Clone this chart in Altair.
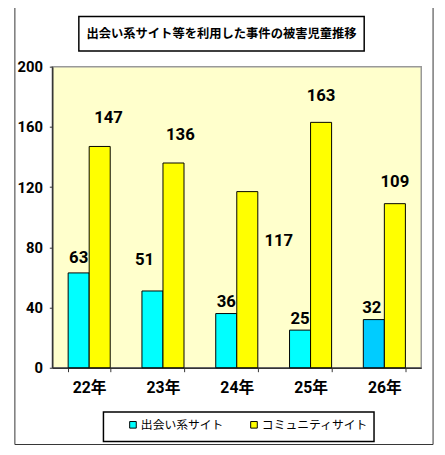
import altair as alt
import pandas as pd

years = ["22年", "23年", "24年", "25年", "26年"]
series = ["出会い系サイト", "コミュニティサイト"]
deai = [63, 51, 36, 25, 32]
community = [147, 136, 117, 163, 109]
y_ticks = [0, 40, 80, 120, 160, 200]
title_text = "出会い系サイト等を利用した事件の被害児童推移"

rows = []
for i, y in enumerate(years):
    rows.append({"year": y, "series": series[0], "value": deai[i]})
    rows.append({"year": y, "series": series[1], "value": community[i]})
df = pd.DataFrame(rows)

# label nudges (style, px): (series index, year) -> (dx, dy)
nudge = {
    (0, "22年"): (0, -6), (0, "23年"): (-8, -22), (0, "24年"): (0, -3),
    (0, "25年"): (0, -2), (0, "26年"): (-2, -3),
    (1, "22年"): (9, -20), (1, "23年"): (7, -19), (1, "24年"): (32, 59),
    (1, "25年"): (0, -18), (1, "26年"): (0, -13),
}

W, H = 375, 306
NUM_FONT = "Roboto, Noto Sans CJK JP"
JP_FONT = "Noto Sans CJK JP"

xs = alt.Scale(domain=years, paddingInner=0.43, paddingOuter=0.215)
ys = alt.Scale(domain=[0, 200], nice=False)
xo = alt.Scale(domain=series, paddingInner=0)

base = alt.Chart(df)

bars = base.mark_bar(stroke="black", strokeWidth=1).encode(
    x=alt.X("year:N", scale=xs, sort=years,
            axis=alt.Axis(title=None, labelAngle=0, ticks=True, tickBand="extent",
                          tickSize=4, tickColor="#333", labelPadding=8,
                          labelFont=NUM_FONT, labelFontSize=16, labelFontWeight="bold",
                          labelColor="black", domainColor="#333", domainWidth=1.5)),
    xOffset=alt.XOffset("series:N", scale=xo, sort=series),
    y=alt.Y("value:Q", scale=ys,
            axis=alt.Axis(title=None, values=y_ticks, grid=False, tickSize=3, labelPadding=7,
                          labelFont=NUM_FONT, labelFontSize=15, labelFontWeight="bold",
                          labelColor="black", domainColor="#333", domainWidth=1.5,
                          tickColor="#333")),
    color=alt.condition(
        (alt.datum.year == "26年") & (alt.datum.series == series[0]),
        alt.value("#00CCFF"),
        alt.Color("series:N", sort=series,
                  scale=alt.Scale(domain=series, range=["#00FFFF", "#FFFF00"]),
                  legend=alt.Legend(title=None, orient="none", legendX=76, legendY=358,
                                    direction="horizontal", symbolType="square",
                                    symbolSize=45, symbolStrokeColor="black",
                                    symbolStrokeWidth=1, columnPadding=24, labelOffset=2,
                                    labelFont=JP_FONT, labelFontSize=12,
                                    labelColor="black", padding=0)),
    ),
)

labels = []
for (si, yr), (dx, dy) in nudge.items():
    t = base.transform_filter(
        (alt.datum.year == yr) & (alt.datum.series == series[si])
    ).mark_text(font=NUM_FONT, fontSize=17, fontWeight="bold", baseline="bottom",
                color="black", dx=dx, dy=dy).encode(
        x=alt.X("year:N", scale=xs, sort=years),
        xOffset=alt.XOffset("series:N", scale=xo, sort=series),
        y=alt.Y("value:Q", scale=ys),
        text=alt.Text("value:Q"),
    )
    labels.append(t)

one = alt.Data(values=[{}])
outer = alt.Chart(one).mark_rect(filled=False, stroke="#333", strokeWidth=1).encode(
    x=alt.value(-38), x2=alt.value(387), y=alt.value(-61), y2=alt.value(384))
title_box = alt.Chart(one).mark_rect(filled=False, stroke="black", strokeWidth=1.5).encode(
    x=alt.value(27), x2=alt.value(317), y=alt.value(-51), y2=alt.value(-16))
title = alt.Chart(one).mark_text(text=title_text, font=JP_FONT, fontSize=12.5,
                                 fontWeight="bold", color="black").encode(
    x=alt.value(172), y=alt.value(-33))
legend_box = alt.Chart(one).mark_rect(filled=False, stroke="black", strokeWidth=1.5).encode(
    x=alt.value(52), x2=alt.value(327), y=alt.value(351), y2=alt.value(381))

chart = alt.layer(outer, title_box, title, legend_box, bars, *labels).properties(
    width=W, height=H,
    autosize=alt.AutoSizeParams(type="none"),
    padding={"left": 45, "top": 56, "right": 16, "bottom": 82},
    background="white",
).configure_view(fill="#FFFFCC", stroke="#999", strokeWidth=1.5)

chart.save("out.html", embed_options={"renderer": "svg", "actions": False})
